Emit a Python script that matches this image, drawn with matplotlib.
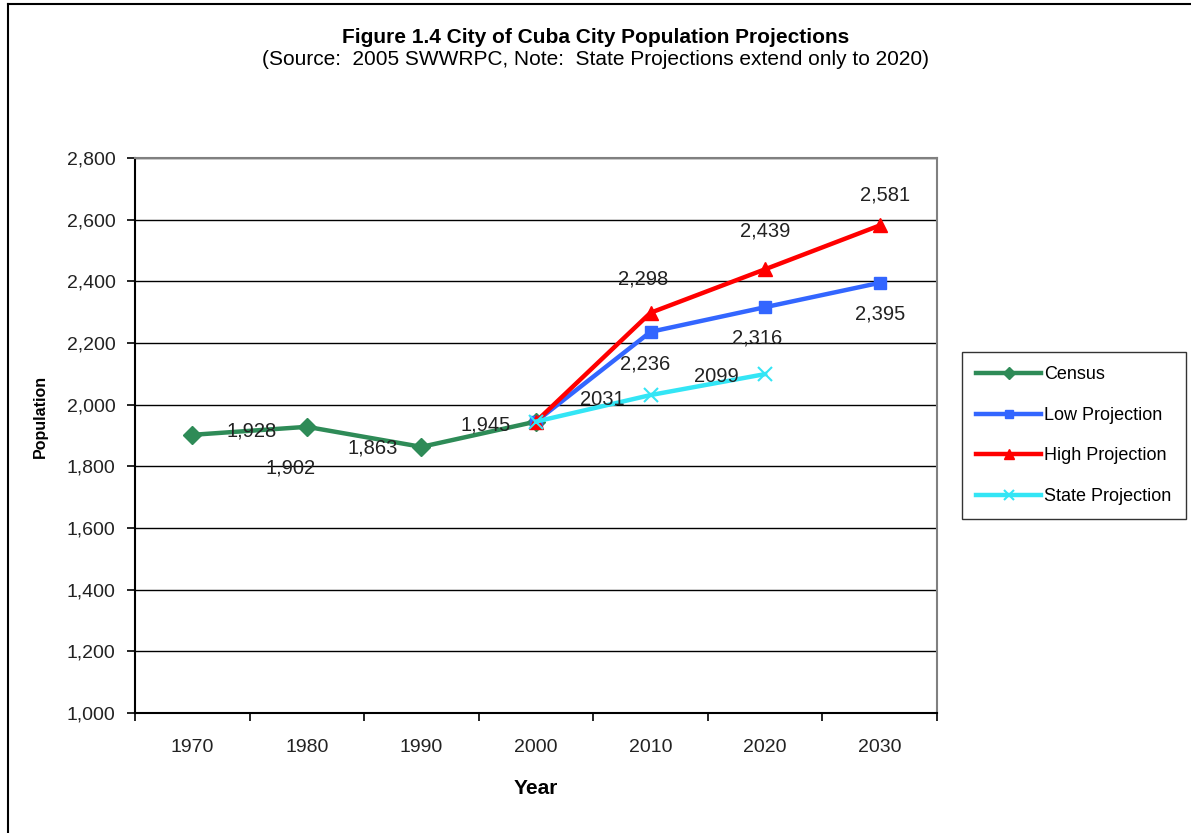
import numpy as np
import matplotlib
matplotlib.use("Agg")
import matplotlib.pyplot as plt
from matplotlib.lines import Line2D

plt.rcParams['font.family'] = ['Liberation Sans', 'DejaVu Sans']

# ---------------- data ----------------
years = ['1970', '1980', '1990', '2000', '2010', '2020', '2030']
census = [1902, 1928, 1863, 1945]
low_proj = [1945, 2236, 2316, 2395]
high_proj = [1945, 2298, 2439, 2581]
state_proj = [1945, 2031, 2099]

census_lbl = ['1,902', '1,928', '1,863', '1,945']
low_lbl = [None, '2,236', '2,316', '2,395']
high_lbl = [None, '2,298', '2,439', '2,581']
state_lbl = [None, '2031', '2099']

# label offsets (pixels) roughly as Excel placed them
census_off = [(98, -33), (-55, -4), (-49, -1), (-50, -3)]
low_off = [None, (-5, -32), (-8, -31), (0, -31)]
high_off = [None, (-7, 34), (0, 38), (5, 30)]
state_off = [None, (-48, -4), (-49, -2)]

fig = plt.figure(figsize=(11.91, 8.33), dpi=100)
ax = fig.add_axes([0.1134, 0.1441, 0.6733, 0.6663])

x = np.arange(len(years))
xc = x[:4]
xp = x[3:]
xs = x[3:6]

lw = 3.2
l1, = ax.plot(xc, census, color='#2E8B57', lw=lw, marker='D', ms=9, label='Census', zorder=3)
l2, = ax.plot(xp, low_proj, color='#3366FF', lw=lw, marker='s', ms=8, label='Low Projection', zorder=3)
l3, = ax.plot(xp, high_proj, color='#FF0000', lw=lw, marker='^', ms=10, label='High Projection', zorder=3)
l4, = ax.plot(xs, state_proj, color='#33E5F5', lw=lw, marker='x', ms=10, mew=1.5, label='State Projection', zorder=4)

def put_labels(xs_, vals, lbls, offs):
    for xx, v, t, o in zip(xs_, vals, lbls, offs):
        if t is None:
            continue
        ax.annotate(t, (xx, v), xytext=o, textcoords='offset pixels',
                    ha='center', va='center', fontsize=14.5, color='#222222', zorder=5)

put_labels(xc, census, census_lbl, census_off)
put_labels(xp, low_proj, low_lbl, low_off)
put_labels(xp, high_proj, high_lbl, high_off)
put_labels(xs, state_proj, state_lbl, state_off)

ax.set_xlim(-0.5, 6.5)
ax.set_ylim(1000, 2800)
ax.set_yticks(np.arange(1000, 2801, 200))
ax.set_yticklabels([f'{v:,}' for v in range(1000, 2801, 200)], fontsize=14, color='#222222')
ax.yaxis.grid(True, color='black', lw=1)
ax.set_axisbelow(True)

ax.set_xticks(np.arange(-0.5, 7, 1))
ax.set_xticklabels([])
ax.set_xticks(x, minor=True)
ax.set_xticklabels(years, minor=True, fontsize=14, color='#222222')
ax.tick_params(axis='x', which='minor', length=0, pad=19)
ax.tick_params(axis='both', which='major', length=6, width=1.2, direction='out')
ax.tick_params(axis='y', pad=8)

for s in ['top', 'right']:
    ax.spines[s].set_color('#808080')
    ax.spines[s].set_linewidth(1.5)
for s in ['left', 'bottom']:
    ax.spines[s].set_color('black')
    ax.spines[s].set_linewidth(1.5)

ax.set_xlabel('Year', fontsize=15, fontweight='bold', labelpad=16)
fig.text(0.034, 0.5, 'Population', rotation=90, fontsize=11.5, fontweight='bold',
         ha='center', va='center')

fig.text(0.5, 0.955, 'Figure 1.4 City of Cuba City Population Projections',
         ha='center', va='center', fontsize=15, fontweight='bold')
fig.text(0.5, 0.928, '(Source:  2005 SWWRPC, Note:  State Projections extend only to 2020)',
         ha='center', va='center', fontsize=15)

leg = fig.legend(handles=[l1, l2, l3, l4], loc='upper left',
                 bbox_to_anchor=(962 / 1191, 1 - 352 / 833), fontsize=13,
                 frameon=True, fancybox=False, edgecolor='black',
                 labelspacing=1.3, handlelength=3.6, handletextpad=0.15,
                 borderpad=0.8, borderaxespad=0, markerscale=0.7)
leg.get_frame().set_linewidth(1.0)

# outer chart border: only top and left edges are visible
fig.add_artist(Line2D([8 / 1191, 8 / 1191], [0, 1 - 4 / 833],
                      transform=fig.transFigure, color='black', lw=1.5))
fig.add_artist(Line2D([8 / 1191, 1], [1 - 4 / 833, 1 - 4 / 833],
                      transform=fig.transFigure, color='black', lw=1.5))

fig.savefig('out.png', dpi=100)
